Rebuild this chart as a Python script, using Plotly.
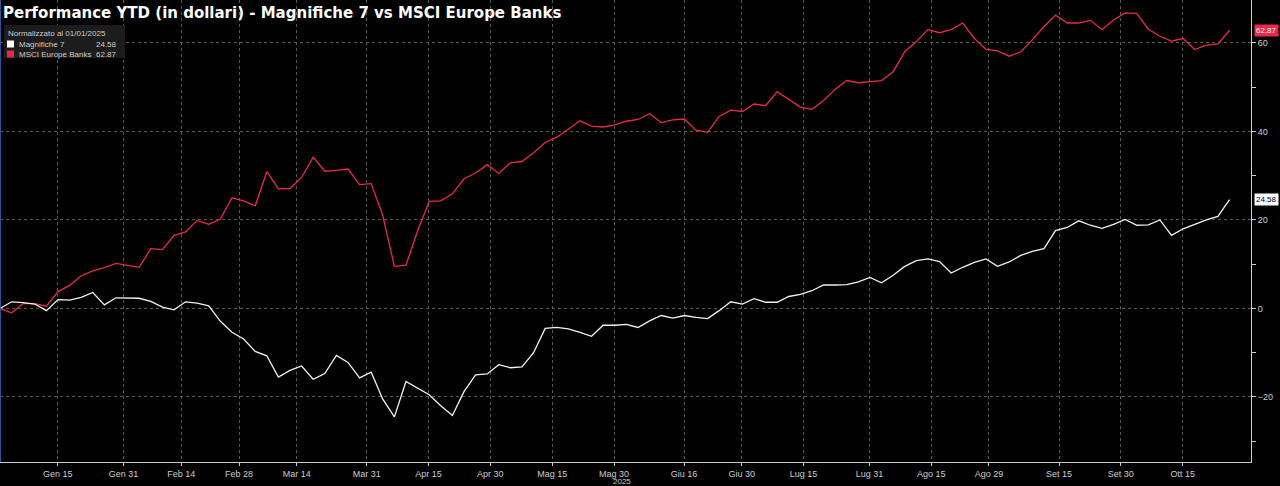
import pandas as pd
import plotly.graph_objects as go

mag7 = [0,1.5,1.3,1.0,-0.5,2,1.9,2.5,3.6,0.8,2.4,2.4,2.3,1.6,0.3,-0.3,1.5,1.2,0.6,-2.9,-5.4,-6.9,-9.7,-10.7,-15.5,-14,-13,-16,-14.7,-10.6,-12.2,-15.7,-14.4,-20.5,-24.5,-16.5,-18,
        -19.5,-22,-24.2,-18.8,-15,-14.8,-12.7,-13.4,-13.2,-10,-4.5,-4.3,-4.6,-5.4,-6.3,-3.8,-3.8,-3.6,-4.3,-2.8,-1.6,-2.2,-1.6,-2,-2.3,-0.5,1.5,1.0,2.2,1.4,1.4,2.7,3.2,4.0,5.3,5.3,
        5.4,6.0,7.0,5.8,7.5,9.5,10.8,11.2,10.6,8.0,9.3,10.4,11.2,9.5,10.5,12,12.9,13.5,17.6,18.3,19.8,18.8,18.1,19,20.1,18.8,18.9,20,16.5,18,19,20,20.8,24.58]
banks = [0,-1,1.1,1.1,0.5,3.8,5.2,7.4,8.5,9.2,10.2,9.8,9.3,13.5,13.3,16.5,17.3,19.9,19,20.2,25,24.3,23.2,30.9,27,27.1,29.6,34.2,31,31.2,31.5,28,28.2,21,9.5,9.8,17.5,
         24.2,24.3,25.9,29.3,30.6,32.5,30.5,32.9,33.2,35.2,37.5,38.7,40.5,42.4,41.2,41,41.5,42.3,42.7,44,42,42.6,42.8,40.3,39.8,43.4,44.8,44.5,46.2,45.8,49,47.3,45.5,45,47,49.5,
         51.5,51,51.2,51.5,53.5,58,60.3,63,62.3,63,64.5,61,58.6,58.2,57,58,60.7,63.7,66.3,64.5,64.5,65.1,63,65.2,66.8,66.7,63.1,61.5,60.4,61,58.5,59.5,59.8,62.87]
dates = pd.date_range("2025-01-01", "2025-10-26 09:00", periods=len(mag7))

tick_dates = ["2025-01-15","2025-01-31","2025-02-14","2025-02-28","2025-03-14","2025-03-31","2025-04-15","2025-04-30",
              "2025-05-15","2025-05-30","2025-06-16","2025-06-30","2025-07-15","2025-07-31","2025-08-15","2025-08-29",
              "2025-09-15","2025-09-30","2025-10-15"]
tick_text = ["Gen 15","Gen 31","Feb 14","Feb 28","Mar 14","Mar 31","Apr 15","Apr 30","Mag 15","Mag 30",
             "Giu 16","Giu 30","Lug 15","Lug 31","Ago 15","Ago 29","Set 15","Set 30","Ott 15"]
ytick_vals = [-20, 0, 20, 40, 60]

RED = "#e8294a"
fig = go.Figure()
fig.add_trace(go.Scatter(x=dates, y=banks, mode="lines", line=dict(color=RED, width=1.3), name="MSCI Europe Banks"))
fig.add_trace(go.Scatter(x=dates, y=mag7, mode="lines", line=dict(color="#f2f2f2", width=1.3), name="Magnifiche 7"))

grid = dict(showgrid=True, gridcolor="#5a5a5a", griddash="dot", gridwidth=1)
fig.update_layout(
    width=1280, height=486, paper_bgcolor="black", plot_bgcolor="black",
    margin=dict(l=0, r=29, t=0, b=24), showlegend=False,
    font=dict(family="Liberation Sans, Arial", color="#cccccc", size=9),
    xaxis=dict(type="date", range=["2025-01-01", "2025-10-31 14:00"], tickvals=tick_dates, ticktext=tick_text,
               ticks="outside", ticklen=3, tickcolor="#cccccc", showline=True, linecolor="#cccccc",
               tickfont=dict(size=9, color="#cccccc"), zeroline=False, **grid),
    yaxis=dict(side="right", range=[-34.7, 69.7], tickvals=ytick_vals, ticks="outside", ticklen=4,
               tickcolor="#cccccc", showline=True, linecolor="#cccccc", zeroline=False,
               minor=dict(tickvals=[-30, -10, 10, 30, 50], ticks="outside", ticklen=4, tickcolor="#cccccc", showgrid=False),
               tickfont=dict(size=9, color="#cccccc"), **grid),
)
fig.add_annotation(xref="paper", yref="paper", x=0.0, y=1.0, xanchor="left", yanchor="top", xshift=1, yshift=-2,
                   text="<b>Performance YTD (in dollari) - Magnifiche 7 vs MSCI Europe Banks</b>", showarrow=False,
                   font=dict(size=15, color="white", family="DejaVu Sans"))
fig.add_shape(type="rect", xref="paper", yref="paper", x0=4/1251, x1=125/1251, y0=1-58/462, y1=1-25/462,
              fillcolor="#1c1c1c", line=dict(width=0), layer="above")
fig.add_annotation(xref="paper", yref="paper", x=6/1251, y=1-27/462, xanchor="left", yanchor="top", showarrow=False,
                   text="Normalizzato al 01/01/2025", font=dict(size=8, color="#cccccc"))
for i, (nm, val, col) in enumerate([("Magnifiche 7", "24.58", "white"), ("MSCI Europe Banks", "62.87", RED)]):
    yc = 1 - (44 + i * 10) / 462
    fig.add_shape(type="rect", xref="paper", yref="paper", x0=7/1251, x1=14/1251, y0=yc-3.5/462, y1=yc+3.5/462,
                  fillcolor=col, line=dict(width=0), layer="above")
    fig.add_annotation(xref="paper", yref="paper", x=17/1251, y=yc, xanchor="left", yanchor="middle", showarrow=False,
                       text=nm, font=dict(size=8, color="#cccccc"))
    fig.add_annotation(xref="paper", yref="paper", x=119/1251, y=yc, xanchor="right", yanchor="middle", showarrow=False,
                       text=val, font=dict(size=8, color="#cccccc"))
fig.add_annotation(xref="paper", yref="y", x=1, y=banks[-1], xanchor="left", yanchor="middle", xshift=3, showarrow=False,
                   text="62.87", bgcolor=RED, font=dict(size=8, color="white"), borderpad=1)
fig.add_annotation(xref="paper", yref="y", x=1, y=mag7[-1], xanchor="left", yanchor="middle", xshift=3, showarrow=False,
                   text="24.58", bgcolor="white", font=dict(size=8, color="black"), borderpad=1)
fig.add_annotation(xref="x", yref="paper", x="2025-05-30", y=0, yanchor="top", xanchor="center", xshift=8, yshift=-13, showarrow=False,
                   text="2025", font=dict(size=8, color="#cccccc"))
fig.add_shape(type="line", xref="paper", yref="paper", x0=0, x1=0, y0=0, y1=1, line=dict(color="#2a5599", width=2))
fig.write_html("out.html", config={"displayModeBar": False})

with open("out.html", encoding="utf-8") as f:
    html = f.read()
html = html.replace("<head>", "<head><style>html,body{margin:0;padding:0;overflow:hidden;background:black}</style>", 1)
with open("out.html", "w", encoding="utf-8") as f:
    f.write(html)
